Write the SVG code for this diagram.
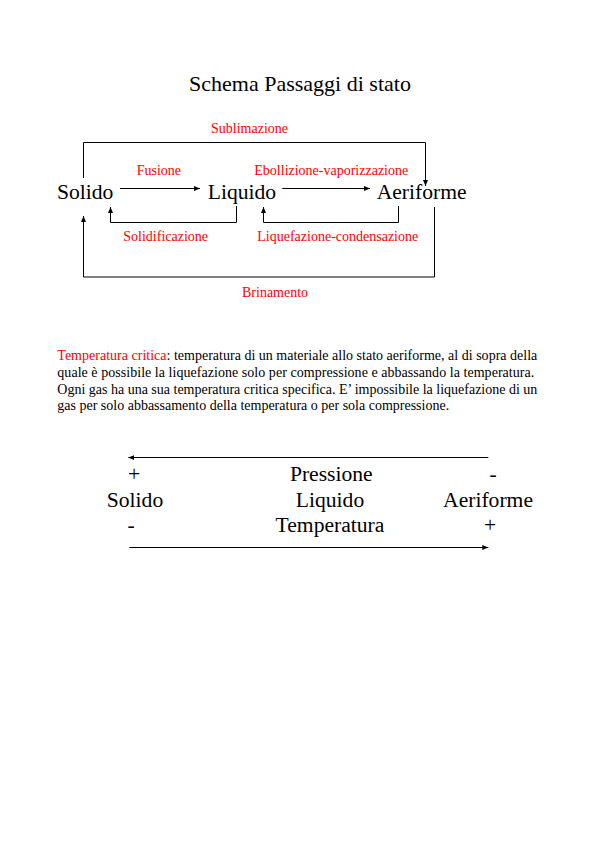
<svg xmlns="http://www.w3.org/2000/svg" width="596" height="842" viewBox="0 0 596 842">
<style>
text{font-family:"Liberation Serif","Times New Roman",serif;fill:#000}
.t{font-size:22px}
.big{font-size:21.6px}
.lbl{font-size:14px;fill:#ff0000}
.p{font-size:14px}
.red{fill:#ff0000}
.c{fill:none;stroke:#000;stroke-width:1}
.mid{text-anchor:middle}
</style>
<defs>
<marker id="ah" markerUnits="userSpaceOnUse" markerWidth="7" markerHeight="6" refX="6" refY="2.5" orient="auto">
<path d="M0,0 L6,2.5 L0,5 z" fill="#000"/>
</marker>
</defs>
<rect width="596" height="842" fill="#fff"/>
<text id="title" class="t mid" x="300" y="90.7">Schema Passaggi di stato</text>

<g id="connectors">
<path class="c" d="M83.5,178 V142.5 H425.5 V186" marker-end="url(#ah)"/>
<path class="c" d="M120,188.5 H200" marker-end="url(#ah)"/>
<path class="c" d="M282.3,188.5 H370" marker-end="url(#ah)"/>
<path class="c" d="M236.5,206 V222.5 H110.5 V207" marker-end="url(#ah)"/>
<path class="c" d="M398.5,206 V222.5 H263.5 V207" marker-end="url(#ah)"/>
<path class="c" d="M434.5,207 V277 H83.5 V216" marker-end="url(#ah)"/>
<path class="c" d="M488.3,457.5 H128.3" marker-end="url(#ah)"/>
<path class="c" d="M129.3,547.5 H488.3" marker-end="url(#ah)"/>
</g>

<g id="solido"><text class="big" x="57" y="198.5">Solido</text></g>
<g id="liquido"><text class="big" x="207.7" y="198.5">Liquido</text></g>
<g id="aeriforme"><text class="big" x="376.7" y="198.5">Aeriforme</text></g>

<g id="labels">
<text class="lbl" x="211" y="133.3">Sublimazione</text>
<text class="lbl" x="136.7" y="175">Fusione</text>
<text class="lbl" x="254.3" y="175">Ebollizione-vaporizzazione</text>
<text class="lbl" x="123.3" y="241">Solidificazione</text>
<text class="lbl" x="257.3" y="241">Liquefazione-condensazione</text>
<text class="lbl" x="242" y="297">Brinamento</text>
</g>

<g id="paragraph">
<text class="p" x="57.3" y="360" textLength="480" lengthAdjust="spacing"><tspan class="red">Temperatura critica</tspan>: temperatura di un materiale allo stato aeriforme, al di sopra della</text>
<text class="p" x="57.3" y="376.7" textLength="477" lengthAdjust="spacing">quale è possibile la liquefazione solo per compressione e abbassando la temperatura.</text>
<text class="p" x="57.3" y="393.5" textLength="480" lengthAdjust="spacing">Ogni gas ha una sua temperatura critica specifica. E’ impossibile la liquefazione di un</text>
<text class="p" x="57.3" y="410">gas per solo abbassamento della temperatura o per sola compressione.</text>
</g>

<g id="scale">
<text class="big mid" x="134" y="481">+</text>
<text class="big mid" x="331.3" y="481">Pressione</text>
<text class="big mid" x="493" y="481">-</text>
<text class="big mid" x="135" y="506.5">Solido</text>
<text class="big mid" x="330" y="506.5">Liquido</text>
<text class="big mid" x="488" y="506.5">Aeriforme</text>
<text class="big mid" x="131" y="532">-</text>
<text class="big mid" x="330" y="532">Temperatura</text>
<text class="big mid" x="490" y="532">+</text>
</g>
</svg>
